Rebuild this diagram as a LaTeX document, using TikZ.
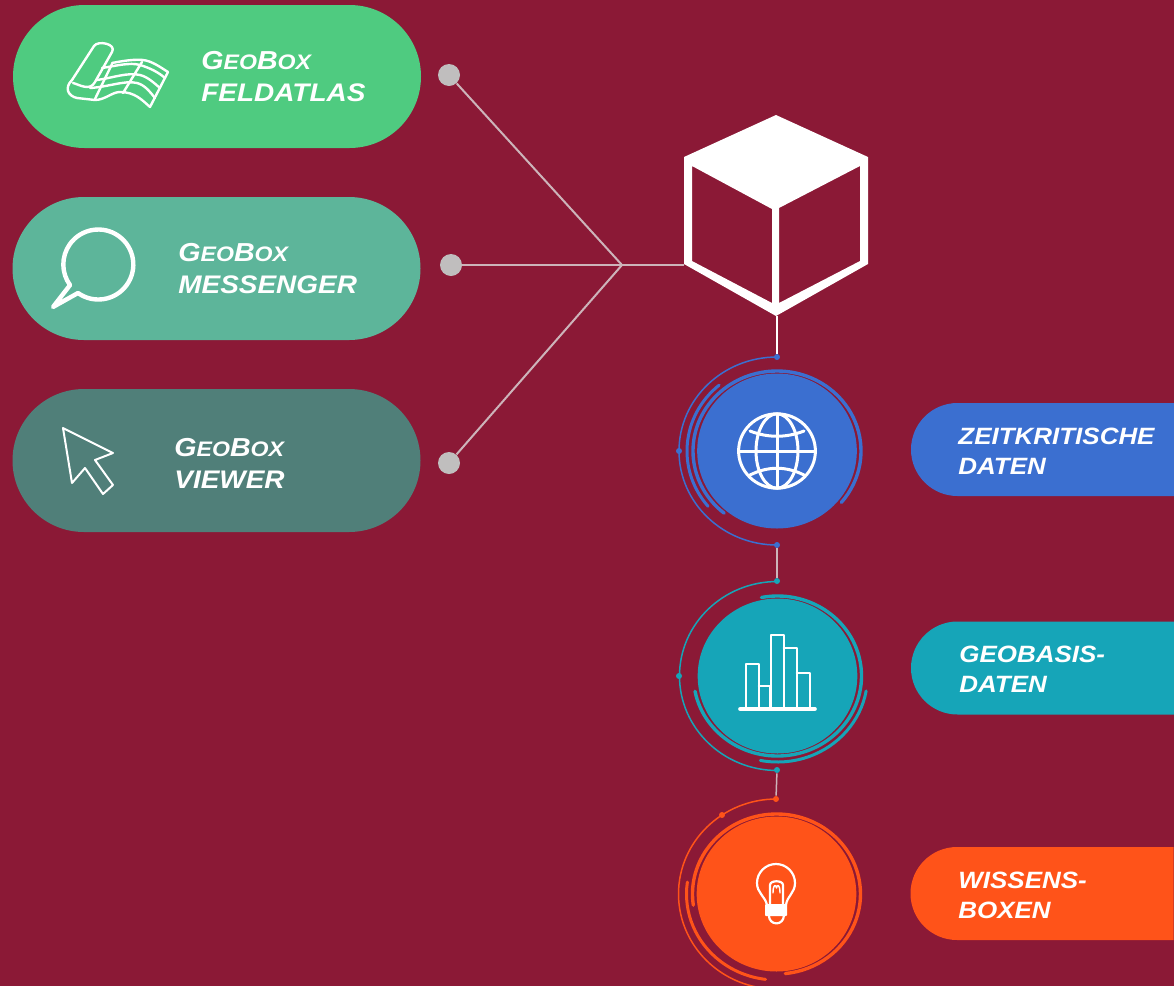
\documentclass[tikz,border=0pt]{standalone}
\usepackage{fontspec}
\setmainfont[FakeStretch=1.1]{Liberation Sans}
\usetikzlibrary{shapes.misc,positioning}
\definecolor{bgred}{HTML}{8B1936}
\definecolor{feldgreen}{HTML}{4FCB80}
\definecolor{msggreen}{HTML}{5DB59A}
\definecolor{viewgreen}{HTML}{507F79}
\definecolor{zeitblue}{HTML}{3B6FD0}
\definecolor{basisteal}{HTML}{16A5B8}
\definecolor{wissenorange}{HTML}{FF5319}
\definecolor{dotgrey}{HTML}{C0BEBE}
\definecolor{wiregrey}{HTML}{CDB4BA}
\newcommand{\geobox}{{\fontsize{13}{16}\selectfont G\fontsize{10.5}{16}\selectfont EO\fontsize{13}{16}\selectfont B\fontsize{10.5}{16}\selectfont OX}}
% arc on a ring: style, centre, x radius, y radius, from, to
\newcommand{\ringarc}[6]{\draw[#1] (#2) ++(#5:#3pt and #4pt) arc[x radius=#3pt,y radius=#4pt,start angle=#5,end angle=#6];}
\tikzset{
  pill/.style={rounded rectangle,minimum width=204pt,minimum height=71.5pt,inner sep=0pt},
  tag/.style={rounded rectangle,rounded rectangle east arc=none,minimum width=131.5pt,minimum height=46.5pt,inner sep=0pt},
  disc/.style={circle,minimum size=155pt/2,inner sep=0pt,xscale=1.03},
  pilltext/.style={anchor=west,align=left,text=white,inner sep=0pt,font=\bfseries\itshape\fontsize{12.7}{16}\selectfont},
  tagtext/.style={anchor=west,align=left,text=white,inner sep=0pt,font=\bfseries\itshape\fontsize{11.8}{15}\selectfont},
  greydot/.style={circle,fill=dotgrey,minimum size=11pt,inner sep=0pt},
  ringdot/.style={circle,minimum size=3pt,inner sep=0pt},
  wire/.style={wiregrey,line width=1pt},
  thinring/.style={line width=.75pt},
  midring/.style={line width=1.5pt,line cap=round},
  thickring/.style={line width=1.7pt,line cap=round},
  icon/.style={white,line width=1.2pt,line join=round,line cap=round},
}
\begin{document}
\begin{tikzpicture}[x=.5pt,y=-.5pt]
  \clip (0,0) rectangle (1174,986);
  \fill[bgred] (0,0) rectangle (1174,986);
  % left pills
  \foreach \name/\tone/\xpos/\ypos in {feld/feldgreen/217/76.5,msg/msggreen/216.5/268.5,view/viewgreen/216.5/460.5}
    \node[pill,fill=\tone] (\name) at (\xpos,\ypos) {};
  \node[pilltext] (feldtext) at (201,77) {\geobox\\FELDATLAS};
  \node[pilltext] (msgtext) at (178,269) {\geobox\\MESSENGER};
  \node[pilltext] (viewtext) at (174,463) {\geobox\\VIEWER};
  % right tags
  \foreach \name/\tone/\xpos/\ypos in {zeit/zeitblue/1042.5/449.5,basis/basisteal/1042.5/668,wissen/wissenorange/1042/893.5}
    \node[tag,fill=\tone] (\name) at (\xpos,\ypos) {};
  \node[tagtext] (zeittext) at (958,451) {ZEITKRITISCHE\\DATEN};
  \node[tagtext] (basistext) at (959,669) {GEOBASIS-\\DATEN};
  \node[tagtext] (wissentext) at (958,895) {WISSENS-\\BOXEN};
  % cube
  \fill[white,even odd rule] (776,115) -- (868,157) -- (868,264) -- (776,316) -- (684,264) -- (684,157) -- cycle
    (692,166) -- (772,209) -- (772,303) -- (692,261) -- cycle
    (779,208) -- (860,166) -- (860,261) -- (779,303) -- cycle;
  \coordinate (cubeleft) at (684,265);
  \coordinate (cubebottom) at (777,316);
  \coordinate (hub) at (622,265);
  \node[greydot] (feeda) at (449,75) {};
  \node[greydot] (feedb) at (451,265) {};
  \node[greydot] (feedc) at (449,463) {};
  \draw[wire] (feeda) -- (hub);
  \draw[wire] (feedb) -- (hub);
  \draw[wire] (feedc) -- (hub);
  \draw[wire] (hub) -- (cubeleft);
  % discs
  \node[disc,fill=zeitblue] (globe) at (777,451) {};
  \node[disc,fill=basisteal] (bars) at (777.5,676) {};
  \node[disc,fill=wissenorange] (bulb) at (776.5,894) {};
  % rings of the blue disc
  \ringarc{zeitblue,thinring}{globe}{49}{47}{90}{270}
  \ringarc{zeitblue,midring}{globe}{45}{43}{130}{220}
  \ringarc{zeitblue,thickring}{globe}{42}{40}{231}{-40}
  \node[ringdot,fill=zeitblue] (zeittop) at (777,357) {};
  \node[ringdot,fill=zeitblue] (zeitleft) at (679,451) {};
  \node[ringdot,fill=zeitblue] (zeitbottom) at (777,545) {};
  % rings of the teal disc
  \ringarc{basisteal,thinring}{bars}{49}{47.25}{90}{270}
  \ringarc{basisteal,midring}{bars}{45}{43}{-10}{-101}
  \ringarc{basisteal,thickring}{bars}{42}{40}{101}{-169}
  \node[ringdot,fill=basisteal] (basistop) at (777,581) {};
  \node[ringdot,fill=basisteal] (basisleft) at (679,676) {};
  \node[ringdot,fill=basisteal] (basisbottom) at (777,770) {};
  % rings of the orange disc
  \ringarc{wissenorange,thinring}{bulb}{49}{47.5}{90}{258}
  \ringarc{wissenorange,midring}{bulb}{45}{43}{172}{263}
  \ringarc{wissenorange,thickring}{bulb}{42}{40}{188}{-84}
  \node[ringdot,fill=wissenorange] (wissentop) at (776,799) {};
  \node[ringdot,fill=wissenorange] (wissenside) at (722,815) {};
  % links between the discs
  \draw[white,line width=.75pt] (cubebottom) -- (zeittop);
  \draw[wire,line width=.75pt] (zeitbottom) -- (basistop);
  \draw[wire,line width=.75pt] (basisbottom) -- (wissentop);
  % globe icon
  \draw[icon,line width=1.5pt] (777,451) ellipse[x radius=19.2pt,y radius=18.6pt];
  \draw[icon,line width=1.5pt] (777,451) ellipse[x radius=10.5pt,y radius=18.6pt];
  \draw[icon,line width=1.5pt] (777,414) -- (777,488) (739,451) -- (815,451);
  \draw[icon,line width=1.5pt] (750,431) .. controls (768,438) and (786,438) .. (804,431);
  \draw[icon,line width=1.5pt] (750,475) .. controls (768,466) and (786,466) .. (804,475);
  % bar icon
  \draw[icon,line width=1.3pt] (746,709) -- (746,664) -- (759,664) -- (759,709)
    (759,686) -- (770,686) -- (770,709)
    (771,709) -- (771,635) -- (784,635) -- (784,709)
    (784,648) -- (797,648) -- (797,709)
    (797,673) -- (810,673) -- (810,709);
  \draw[icon,line width=1.8pt] (740,709) -- (815,709);
  % bulb icon
  \draw[icon,line width=1.1pt] (767,905) .. controls (765,896) and (757,893) .. (757,883)
    arc[x radius=9.5pt,y radius=9.5pt,start angle=180,end angle=0]
    .. controls (795,893) and (787,896) .. (786,905);
  \fill[white,rounded corners=.5pt] (765,904) rectangle (787,916);
  \draw[icon,line width=1.1pt] (769,916) arc[x radius=3.7pt,y radius=3.7pt,start angle=180,end angle=360];
  \draw[icon,line width=1.1pt] (770,904) -- (770,885) .. controls (770,880) and (783,880) .. (783,885) -- (783,904);
  \draw[icon,line width=.7pt] (773,893) .. controls (773,884) and (776,884) .. (776.5,888) .. controls (777,884) and (780,884) .. (780,893);
  % map icon
  \draw[icon] (112,63) .. controls (122,61) and (135,59) .. (143,60) .. controls (152,61) and (160,67) .. (168,72)
    -- (150,107) .. controls (142,100) and (135,92) .. (120,92) .. controls (112,92) and (105,100) .. (95,100)
    -- (77,98) .. controls (68,96) and (64,88) .. (72,80) -- (94,46) .. controls (98,40) and (117,44) .. (112,52) -- (95,82)
    .. controls (90,92) and (78,84) .. (73,83);
  \draw[icon] (102,68) .. controls (115,66) and (130,62) .. (140,65) .. controls (150,68) and (158,72) .. (165,78);
  \draw[icon] (97,80) .. controls (112,78) and (128,72) .. (140,75) .. controls (148,77) and (154,83) .. (160,88);
  \draw[icon] (90,88) .. controls (108,87) and (125,80) .. (137,83) .. controls (145,85) and (150,92) .. (155,98);
  \draw[icon] (112,64) -- (95,99) (142,62) -- (123,93);
  % bubble icon
  \draw[icon,line width=2.2pt] (78,293) arc[radius=17.5pt,start angle=234.5,end angle=576] -- (53,307) -- cycle;
  % cursor icon
  \draw[icon,line width=1pt] (63,428) -- (113,453) -- (95,460) -- (113,485) -- (103,494) -- (85,468) -- (72,483) -- cycle;
\end{tikzpicture}
\end{document}
